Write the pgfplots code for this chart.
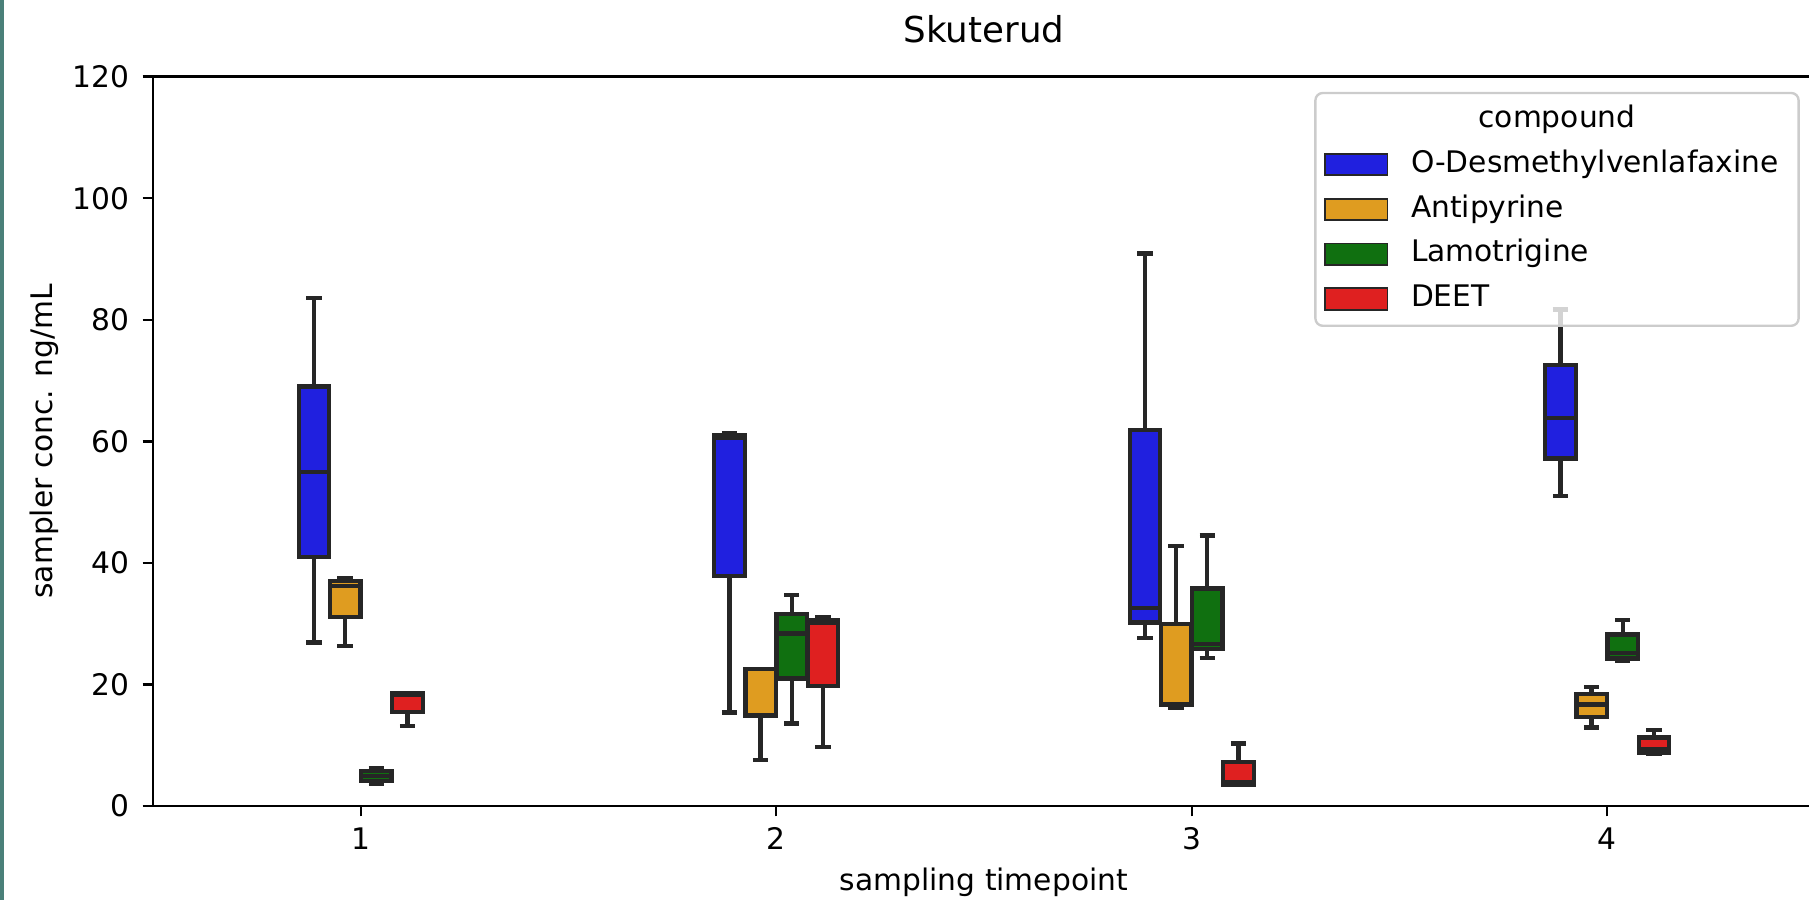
\documentclass[border=0pt]{standalone}
\usepackage{fontspec}
\setmainfont{DejaVu Sans}
\usepackage{pgfplots}
\pgfplotsset{compat=1.18}
\usepgfplotslibrary{statistics}

\definecolor{cBlue}{RGB}{32,32,223}
\definecolor{cOrange}{RGB}{223,156,32}
\definecolor{cGreen}{RGB}{16,112,16}
\definecolor{cRed}{RGB}{223,32,32}
\definecolor{cEdge}{RGB}{38,38,38}
\definecolor{cLeg}{RGB}{204,204,204}
\definecolor{cTeal}{RGB}{74,128,121}

\pgfplotsset{
  bx/.style={boxplot prepared={#1}, boxplot/draw direction=y, draw=cEdge, line width=1.45pt, solid, forget plot,
    boxplot/box extend=0.0735, boxplot/whisker extend=0.037},
}

\begin{document}
\begin{tikzpicture}
\begin{axis}[
  name=ax,
  scale only axis, width=559.6pt, height=245.6pt,
  xmin=0.5, xmax=4.5, ymin=0, ymax=120,
  xtick={1,2,3,4}, ytick={0,20,...,120},
  tick align=outside, major tick length=3.5pt,
  xtick pos=bottom, ytick pos=left,
  tick style={black, line width=0.8pt},
  axis line style={black, line width=0.8pt},
  font=\fontsize{10}{12}\selectfont,
  /pgf/number format/assume math mode=true,
  xticklabel style={font=\fontsize{10}{12}\selectfont, anchor=north, inner sep=0pt, text height=7.3pt, text depth=0pt, yshift=-3.7pt},
  yticklabel style={font=\fontsize{10}{12}\selectfont, anchor=east, inner sep=0pt, xshift=-4.2pt},
  title={Skuterud},
  title style={font=\fontsize{12}{14}\selectfont, at={([yshift=5.5pt]axis description cs:0.5,1)}, anchor=base},
  xlabel={sampling timepoint},
  ylabel={sampler conc. ng/mL},
  every axis x label/.style={at={([yshift=-28.3pt]axis description cs:0.5,0)}, anchor=base, font=\fontsize{10}{12}\selectfont},
  every axis y label/.style={at={([xshift=-36.5pt]axis description cs:0,0.5)}, rotate=90, anchor=center, font=\fontsize{10}{12}\selectfont},
  legend style={
    at={(axis description cs:1,1)}, anchor=north east, xshift=-5.1pt, yshift=-5.1pt,
    draw=cLeg, line width=0.8pt, fill=white, fill opacity=0.8, text opacity=1,
    rounded corners=2.5pt,
    inner xsep=3pt, inner ysep=4pt,
    row sep=5.1pt, column sep=7.6pt,
    nodes={inner sep=0pt, text height=7.6pt, text depth=2.4pt},
    font=\fontsize{10}{12}\selectfont,
  },
  legend cell align=left,
]

% O-Desmethylvenlafaxine
\addplot[bx={draw position=0.8875, lower whisker=26.9, lower quartile=41.0, median=55.0, upper quartile=69.0, upper whisker=83.6}, fill=cBlue] coordinates {};
\addplot[bx={draw position=1.8875, lower whisker=15.4, lower quartile=37.8, median=60.5, upper quartile=61.0, upper whisker=61.4}, fill=cBlue] coordinates {};
\addplot[bx={draw position=2.8875, lower whisker=27.6, lower quartile=30.2, median=32.6, upper quartile=61.9, upper whisker=90.9}, fill=cBlue] coordinates {};
\addplot[bx={draw position=3.8875, lower whisker=51.0, lower quartile=57.2, median=63.8, upper quartile=72.6, upper whisker=81.7}, fill=cBlue] coordinates {};
% Antipyrine
\addplot[bx={draw position=0.9625, lower whisker=26.3, lower quartile=31.1, median=36.2, upper quartile=37.0, upper whisker=37.5}, fill=cOrange] coordinates {};
\addplot[bx={draw position=1.9625, lower whisker=7.6, lower quartile=14.9, median=15.0, upper quartile=22.5, upper whisker=22.5}, fill=cOrange] coordinates {};
\addplot[bx={draw position=2.9625, lower whisker=16.2, lower quartile=16.6, median=16.8, upper quartile=29.9, upper whisker=42.8}, fill=cOrange] coordinates {};
\addplot[bx={draw position=3.9625, lower whisker=12.9, lower quartile=14.6, median=16.7, upper quartile=18.4, upper whisker=19.6}, fill=cOrange] coordinates {};
% Lamotrigine
\addplot[bx={draw position=1.0375, lower whisker=3.6, lower quartile=4.1, median=4.9, upper quartile=5.8, upper whisker=6.2}, fill=cGreen] coordinates {};
\addplot[bx={draw position=2.0375, lower whisker=13.6, lower quartile=21.0, median=28.4, upper quartile=31.6, upper whisker=34.7}, fill=cGreen] coordinates {};
\addplot[bx={draw position=3.0375, lower whisker=24.4, lower quartile=25.8, median=26.7, upper quartile=35.8, upper whisker=44.5}, fill=cGreen] coordinates {};
\addplot[bx={draw position=4.0375, lower whisker=23.9, lower quartile=24.3, median=25.2, upper quartile=28.2, upper whisker=30.6}, fill=cGreen] coordinates {};
% DEET
\addplot[bx={draw position=1.1125, lower whisker=13.2, lower quartile=15.5, median=18.3, upper quartile=18.6, upper whisker=18.6}, fill=cRed] coordinates {};
\addplot[bx={draw position=2.1125, lower whisker=9.7, lower quartile=19.7, median=30.1, upper quartile=30.6, upper whisker=31.1}, fill=cRed] coordinates {};
\addplot[bx={draw position=3.1125, lower whisker=3.5, lower quartile=3.55, median=4.0, upper quartile=7.2, upper whisker=10.3}, fill=cRed] coordinates {};
\addplot[bx={draw position=4.1125, lower whisker=8.55, lower quartile=8.8, median=9.3, upper quartile=11.3, upper whisker=12.5}, fill=cRed] coordinates {};

\addlegendimage{empty legend}
\addlegendentry{\hspace*{-29.2pt}\makebox[156.7pt][c]{compound}}
\addlegendimage{legend image code/.code={\draw[fill=cBlue, draw=cEdge, line width=0.6pt, fill opacity=1, sharp corners] (0pt,-3.6pt) rectangle (21pt,3.6pt);}}
\addlegendentry{O-Desmethylvenlafaxine}
\addlegendimage{legend image code/.code={\draw[fill=cOrange, draw=cEdge, line width=0.6pt, fill opacity=1, sharp corners] (0pt,-3.6pt) rectangle (21pt,3.6pt);}}
\addlegendentry{Antipyrine}
\addlegendimage{legend image code/.code={\draw[fill=cGreen, draw=cEdge, line width=0.6pt, fill opacity=1, sharp corners] (0pt,-3.6pt) rectangle (21pt,3.6pt);}}
\addlegendentry{Lamotrigine}
\addlegendimage{legend image code/.code={\draw[fill=cRed, draw=cEdge, line width=0.6pt, fill opacity=1, sharp corners] (0pt,-3.6pt) rectangle (21pt,3.6pt);}}
\addlegendentry{DEET}
\end{axis}
\fill[cTeal] ([shift={(-51.5pt,-31.6pt)}]ax.south west) rectangle ([shift={(-50.15pt,271.4pt)}]ax.south west);
\pgfresetboundingbox
\useasboundingbox ([shift={(-51.5pt,-31.6pt)}]ax.south west) rectangle ([shift={(557.6pt,271.4pt)}]ax.south west);
\end{tikzpicture}
\end{document}
